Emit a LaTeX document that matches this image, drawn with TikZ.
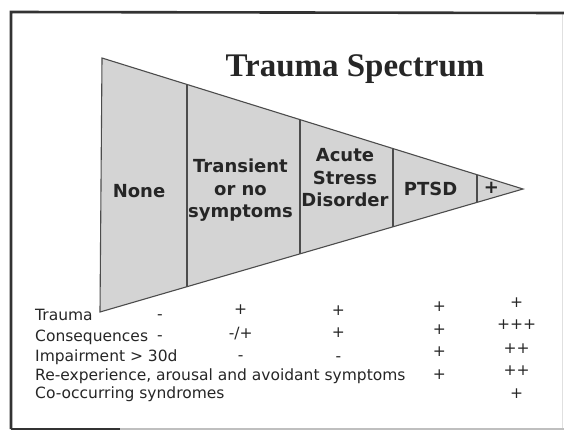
\documentclass[tikz,border=0pt]{standalone}
\usepackage{fontspec}
\setmainfont{DejaVu Sans}
\newfontfamily\titlefont{Liberation Serif}
\begin{document}
\begin{tikzpicture}[x=1pt,y=-1pt,
  frameline/.style={draw=black!80,line width=2.6pt},
  wedge/.style={fill=black!17,draw=black!70,line width=1.1pt,line join=miter},
  divider/.style={draw=black!70,line width=1.1pt},
  stage/.style={font=\fontsize{18}{22.5}\selectfont\bfseries,text=black!85,align=center,inner sep=0pt},
  rowlab/.style={font=\fontsize{15.5}{18}\selectfont,text=black!85,anchor=base west,inner sep=0pt},
  val/.style={font=\fontsize{15.5}{18}\selectfont,text=black!85,anchor=base,inner sep=0pt}]
\useasboundingbox (0,0) rectangle (564,431);
% frame
\draw[draw=black!12,line width=1pt] (562,14) -- (562,429);
\draw[draw=black!25,line width=1.5pt] (11,429) -- (564,429);
\draw[frameline] (11,429) -- (11,12) -- (564,13);
\draw[frameline] (11,429) -- (120,429);
% wedge
\coordinate (tl) at (102,58);
\coordinate (bl) at (100,312);
\coordinate (tip) at (523,189);
\path[wedge] (tl) -- (tip) -- (bl) -- cycle;
\foreach \x/\n in {187/a,300/b,393/c,477/d}{
  \coordinate (t\n) at (\x,{58+(\x-102)/421*131});
  \coordinate (b\n) at (\x,{312-(\x-100)/423*123});
  \draw[divider] (t\n) -- (b\n);
}
% title
\node[font=\titlefont\fontsize{33}{36}\selectfont\bfseries,text=black!85,anchor=base,inner sep=0pt] (title) at (355,76.5) {Trauma Spectrum};
% stages
\node[stage] (none) at (139,191) {None};
\node[stage] (trans) at (240.5,190.5) {Transient\\or no\\symptoms};
\node[stage] (asd) at (345,178) {Acute\\Stress\\Disorder};
\node[stage] (ptsd) at (430.5,189) {PTSD};
\node[stage] (plus) at (491.5,187.5) {+};
% row labels
\node[rowlab] (r1) at (35,320.5) {Trauma};
\node[rowlab] (r2) at (35,341.5) {Consequences};
\node[rowlab] (r3) at (35,361) {Impairment > 30d};
\node[rowlab] (r4) at (35,380) {Re-experience, arousal and avoidant symptoms};
\node[rowlab] (r5) at (35,398.5) {Co-occurring syndromes};
% values
\node[val] (v11) at (160,319) {-};
\node[val] (v12) at (160,340) {-};
\node[val] (v21) at (240.7,314) {+};
\node[val] (v22) at (240.7,338) {-/+};
\node[val] (v23) at (240.7,360.7) {-};
\node[val] (v31) at (338.3,315.7) {+};
\node[val] (v32) at (338.3,337) {+};
\node[val] (v33) at (338.3,361) {-};
\node[val] (v41) at (439.3,311) {+};
\node[val] (v42) at (439.3,334) {+};
\node[val] (v43) at (439.3,356.7) {+};
\node[val] (v44) at (439.3,379.3) {+};
\node[val] (v51) at (516.7,307.7) {+};
\node[val] (v52) at (516.7,329.3) {+++};
\node[val] (v53) at (516.7,353.3) {++};
\node[val] (v54) at (516.7,375) {++};
\node[val] (v55) at (516.7,398.3) {+};
\end{tikzpicture}
\end{document}
